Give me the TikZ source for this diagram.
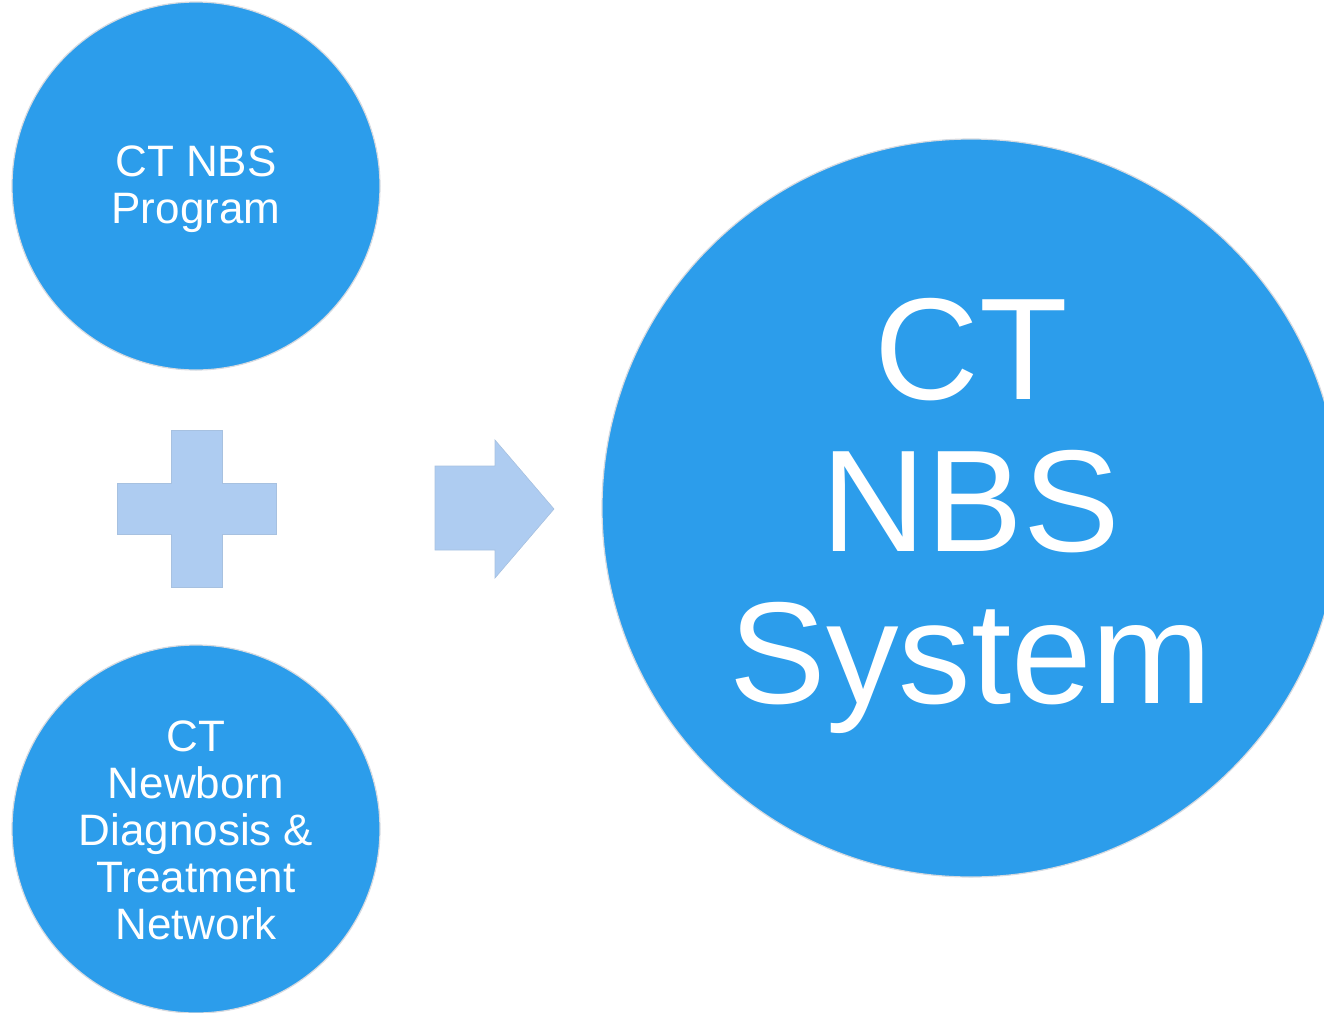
\documentclass[tikz,border=0pt]{standalone}
\usepackage{fontspec}
\setmainfont{Liberation Sans}
\definecolor{circblue}{RGB}{44,157,235}
\definecolor{lightblue}{RGB}{174,204,241}
\definecolor{halo}{RGB}{214,218,224}
\begin{document}
\begin{tikzpicture}[x=1pt,y=-1pt,
  bubble/.style={circle,fill=circblue,draw=halo,line width=1.2pt,inner sep=0pt},
  label/.style={text=white,align=center,inner sep=0pt},
  smalltext/.style={font=\fontsize{44}{47}\selectfont},
  bigtext/.style={font=\fontsize{145}{152}\selectfont},
  lightshape/.style={fill=lightblue,draw=lightblue!85!gray,line width=0.6pt}]
\useasboundingbox (0,0) rectangle (1324,1012);
\clip (0,0) rectangle (1324,1012);
\node[bubble,minimum size=368pt] (prog) at (196,186) {};
\node[label,smalltext] (progtext) at ([yshift=-3pt]prog.center) {CT NBS\\Program};
\node[bubble,minimum size=368pt] (net) at (196,829) {};
\node[label,smalltext] (nettext) at ([yshift=-1pt]net.center) {CT\\Newborn\\Diagnosis \&\\Treatment\\Network};
\node[bubble,minimum size=738pt] (sys) at (971,508) {};
\node[label,bigtext] (systext) at ([yshift=-8pt]sys.center) {CT\\NBS\\System};
% plus sign
\path[lightshape] (171,430) -- (222,430) -- (222,483) -- (276,483) -- (276,534) -- (222,534)
  -- (222,587) -- (171,587) -- (171,534) -- (117,534) -- (117,483) -- (171,483) -- cycle;
% arrow
\path[lightshape] (435,466) -- (495,466) -- (495,440) -- (554,509) -- (495,578) -- (495,550)
  -- (435,550) -- cycle;
\end{tikzpicture}
\end{document}
